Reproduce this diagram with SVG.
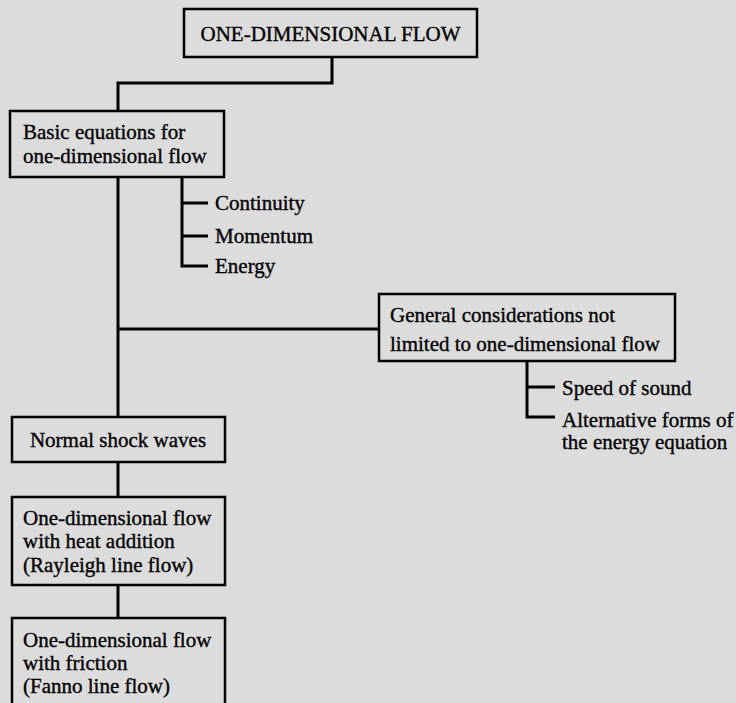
<svg xmlns="http://www.w3.org/2000/svg" width="736" height="703" viewBox="0 0 736 703">
<style>
.bg{fill:#dcdcdc}
.box{fill:none;stroke:#000;stroke-width:2.5}
.con{fill:none;stroke:#000;stroke-width:3}
text{font-family:"Liberation Serif","Times New Roman",Times,serif;font-size:21px;fill:#000;stroke:#000;stroke-width:0.35}
.c{text-anchor:middle}
</style>
<rect class="bg" x="0" y="0" width="736" height="703"/>
<g id="connectors">
<path class="con" d="M332,57 V83 H118 V111"/>
<path class="con" d="M118,177 V417"/>
<path class="con" d="M118,329 H379"/>
<path class="con" d="M118,462 V497"/>
<path class="con" d="M118,585 V618"/>
<path class="con" d="M182,177 V266 H208 M182,203 H208 M182,236 H208"/>
<path class="con" d="M527,361 V417 H555 M527,387 H555"/>
</g>
<g font-family="Liberation Serif, Times New Roman, serif">
<g id="root">
<rect class="box" x="184" y="9" width="293" height="48"/>
<text class="c" x="330.5" y="41">ONE-DIMENSIONAL FLOW</text>
</g>
<g id="basic">
<rect class="box" x="10" y="111" width="214" height="66"/>
<text x="23" y="139">Basic equations for</text>
<text x="23" y="163">one-dimensional flow</text>
</g>
<g id="continuity"><text x="215" y="210">Continuity</text></g>
<g id="momentum"><text x="215" y="243">Momentum</text></g>
<g id="energy"><text x="215" y="273">Energy</text></g>
<g id="general">
<rect class="box" x="379" y="294" width="296" height="67"/>
<text x="390" y="322">General considerations not</text>
<text x="390" y="351">limited to one-dimensional flow</text>
</g>
<g id="speed"><text x="562" y="395">Speed of sound</text></g>
<g id="alternative">
<text x="562" y="427">Alternative forms of</text>
<text x="562" y="449">the energy equation</text>
</g>
<g id="normal">
<rect class="box" x="12" y="417" width="213" height="45"/>
<text class="c" x="118" y="447">Normal shock waves</text>
</g>
<g id="rayleigh">
<rect class="box" x="12" y="497" width="213" height="88"/>
<text x="23" y="525">One-dimensional flow</text>
<text x="23" y="548">with heat addition</text>
<text x="23" y="572">(Rayleigh line flow)</text>
</g>
<g id="fanno">
<rect class="box" x="12" y="618" width="213" height="100"/>
<text x="23" y="647">One-dimensional flow</text>
<text x="23" y="670">with friction</text>
<text x="23" y="693">(Fanno line flow)</text>
</g>
</g>
</svg>
